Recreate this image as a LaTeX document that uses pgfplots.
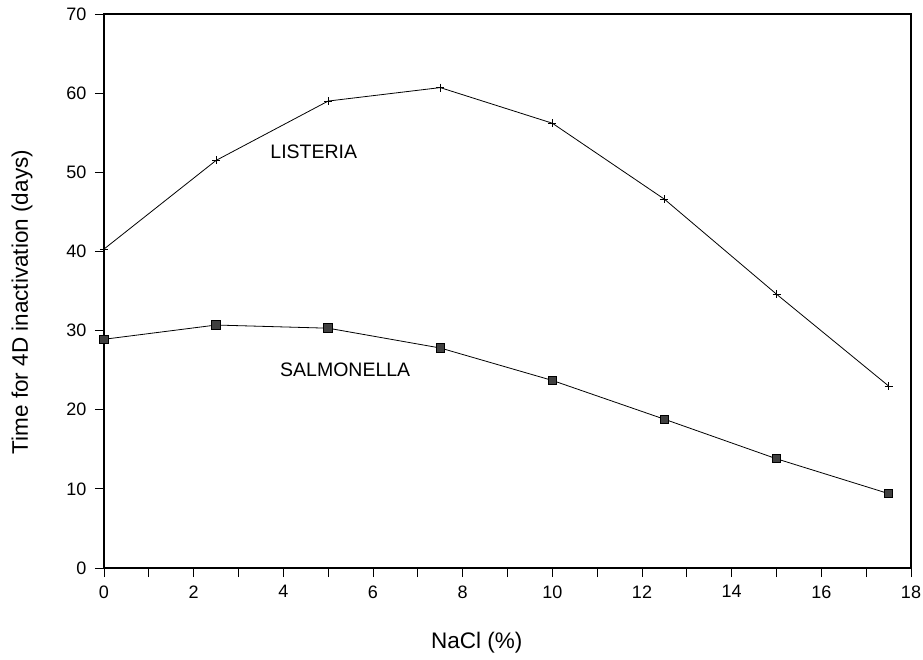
\documentclass[border=0pt]{standalone}
\usepackage{fontspec}
\setmainfont{Liberation Sans}
\usepackage{pgfplots}
\pgfplotsset{compat=1.18}
\begin{document}
\begin{tikzpicture}
\path[use as bounding box] (-104pt,-91pt) rectangle (819pt,568pt);
\begin{axis}[
  at={(0pt,0pt)}, anchor=south west,
  scale only axis, width=807pt, height=554pt,
  xmin=0, xmax=18, ymin=0, ymax=70,
  xtick={0,2,...,18}, minor xtick={1,3,...,17},
  ytick={0,10,...,70},
  tick align=outside, xtick pos=bottom, ytick pos=left,
  major tick length=9pt, minor tick length=9pt,
  axis line style={line width=1.6pt},
  tick style={black, line width=0.8pt},
  /pgf/number format/assume math mode=true,
  ticklabel style={font=\fontsize{18}{21}\selectfont},
  yticklabel style={xshift=-5pt},
  xticklabel style={yshift=-5pt},
  xlabel={NaCl (\%)},
  ylabel={Time for 4D inactivation (days)},
  label style={font=\fontsize{22.5}{26}\selectfont},
  xlabel style={at={(axis description cs:0.462,-0.1354)}, anchor=center},
  ylabel style={at={(axis description cs:-0.1016,0.48)}, anchor=center},
  clip=false,
]
\addplot[black, line width=0.8pt, mark=+, mark size=4pt, mark options={line width=0.8pt}]
  coordinates {(0,40.3)(2.5,51.5)(5,59.0)(7.5,60.7)(10,56.2)(12.5,46.6)(15,34.6)(17.5,23.0)};
\addplot[black, line width=0.8pt, mark=square*, mark size=4.2pt, mark options={fill=black!75, draw=black, line width=1pt}]
  coordinates {(0,28.9)(2.5,30.7)(5,30.3)(7.5,27.8)(10,23.7)(12.5,18.8)(15,13.8)(17.5,9.4)};
\node[font=\fontsize{19.5}{22}\selectfont] at (axis cs:4.68,52.6) {LISTERIA};
\node[font=\fontsize{19.5}{22}\selectfont] at (axis cs:5.38,25.1) {SALMONELLA};
\end{axis}
\end{tikzpicture}
\end{document}
